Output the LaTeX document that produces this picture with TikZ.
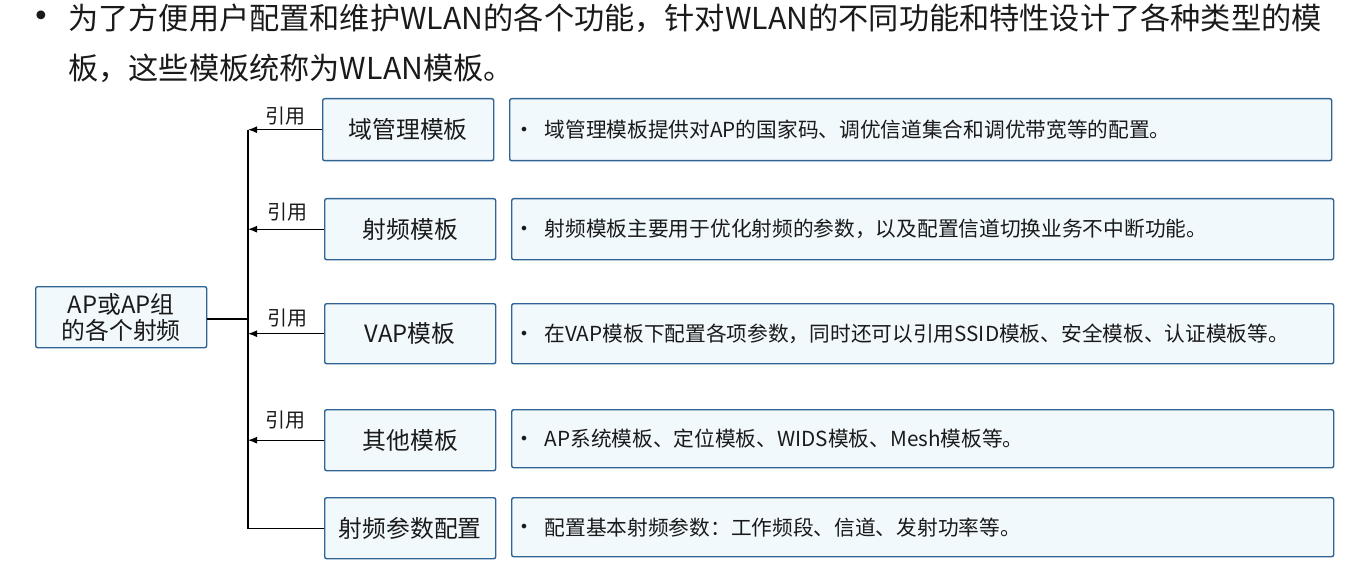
\documentclass[tikz,border=0pt]{standalone}
\usepackage{fontspec}
\setmainfont{Noto Sans CJK SC}
\newfontfamily\cjk{Noto Sans CJK SC}
\newfontfamily\dv{DejaVu Sans}
\usetikzlibrary{arrows.meta}
\definecolor{boxfill}{HTML}{F2F9FD}
\definecolor{boxline}{HTML}{2F6494}
\definecolor{txt}{HTML}{1A1A1A}
\tikzset{
  box/.style={draw=boxline, fill=boxfill, line width=1.4pt, rounded corners=2pt, inner sep=0pt, anchor=north west, text=txt},
  lbox/.style={box, font=\fontsize{23.8}{27}\selectfont\cjk},
  rbox/.style={box, font=\fontsize{20.7}{24}\selectfont\cjk},
  cite/.style={font=\fontsize{20}{24}\selectfont\cjk, text=txt, inner sep=0pt},
  conn/.style={line width=1.3pt, draw=black},
  arr/.style={conn, -{Latex[length=9pt,width=7pt]}},
  dot/.style={font=\fontsize{16}{20}\selectfont\dv, text=txt, inner sep=0pt},
}
\begin{document}
\begin{tikzpicture}[x=1pt,y=-1pt]
\useasboundingbox (0,0) rectangle (1353,575);
% title
\node[font=\fontsize{30}{36}\selectfont\dv, text=txt, inner sep=0pt] (tb) at (41,19) {•};
\node[font=\fontsize{30.2}{36}\selectfont\cjk, text=txt, inner sep=0pt, anchor=west] (t1l) at (68,18) {为了方便用户配置和维护WLAN的各个功能，针对WLAN的不同功能和特性设计了各种类型的模};
\node[font=\fontsize{30.2}{36}\selectfont\cjk, text=txt, inner sep=0pt, anchor=west] (t2l) at (68,68) {板，这些模板统称为WLAN模板。};
% AP box
\node[lbox, minimum width=171pt, minimum height=61pt, align=center] (ap) at (35,286) {AP或AP组\\[-1pt]的各个射频};
% left boxes
\node[lbox, minimum width=171pt, minimum height=62pt] (a1) at (322,98) {域管理模板};
\node[lbox, minimum width=171pt, minimum height=61pt] (a2) at (324,198) {射频模板};
\node[lbox, minimum width=171pt, minimum height=60pt] (a3) at (324,303) {VAP模板};
\node[lbox, minimum width=171pt, minimum height=61pt] (a4) at (324,409) {其他模板};
\node[lbox, minimum width=171pt, minimum height=61pt] (a5) at (324,497) {射频参数配置};
% right boxes
\node[rbox, minimum width=822pt, minimum height=62pt] (b1) at (509,98) {};
\node[rbox, minimum width=822pt, minimum height=61pt] (b2) at (511,198) {};
\node[rbox, minimum width=822pt, minimum height=60pt] (b3) at (511,303) {};
\node[rbox, minimum width=822pt, minimum height=58pt] (b4) at (511,409) {};
\node[rbox, minimum width=822pt, minimum height=59pt] (b5) at (511,497) {};
\node[dot] (d1) at ([xshift=15pt,yshift=-1.5pt]b1.west) {•};
\node[dot] (d2) at ([xshift=13pt,yshift=-1.5pt]b2.west) {•};
\node[dot] (d3) at ([xshift=13pt,yshift=-1.5pt]b3.west) {•};
\node[dot] (d4) at ([xshift=13pt,yshift=-1.5pt]b4.west) {•};
\node[dot] (d5) at ([xshift=13pt,yshift=-1.5pt]b5.west) {•};
\node[rbox, draw=none, fill=none, anchor=west] (c1) at ([xshift=35pt]b1.west) {域管理模板提供对AP的国家码、调优信道集合和调优带宽等的配置。};
\node[rbox, draw=none, fill=none, anchor=west] (c2) at ([xshift=33pt]b2.west) {射频模板主要用于优化射频的参数，以及配置信道切换业务不中断功能。};
\node[rbox, draw=none, fill=none, anchor=west] (c3) at ([xshift=33pt]b3.west) {在VAP模板下配置各项参数，同时还可以引用SSID模板、安全模板、认证模板等。};
\node[rbox, draw=none, fill=none, anchor=west] (c4) at ([xshift=33pt]b4.west) {AP系统模板、定位模板、WIDS模板、Mesh模板等。};
\node[rbox, draw=none, fill=none, anchor=west] (c5) at ([xshift=33pt]b5.west) {配置基本射频参数：工作频段、信道、发射功率等。};
% connectors
\coordinate (sp) at (248,0);
\draw[conn] (ap.east |- 0,319) -- (sp |- 0,319);
\draw[conn] (a1.west -| sp) -- (a5.west -| sp) -- (a5.west);
\draw[arr] (a1.west) -- (a1.west -| sp);
\draw[arr] (a2.west) -- (a2.west -| sp);
\draw[arr] (a3.west) -- (a3.west -| sp);
\draw[arr] (a4.west) -- (a4.west -| sp);
\node[cite] (l1) at (285,116) {引用};
\node[cite] (l2) at (287,212) {引用};
\node[cite] (l3) at (287,318) {引用};
\node[cite] (l4) at (285,420) {引用};
\end{tikzpicture}
\end{document}
